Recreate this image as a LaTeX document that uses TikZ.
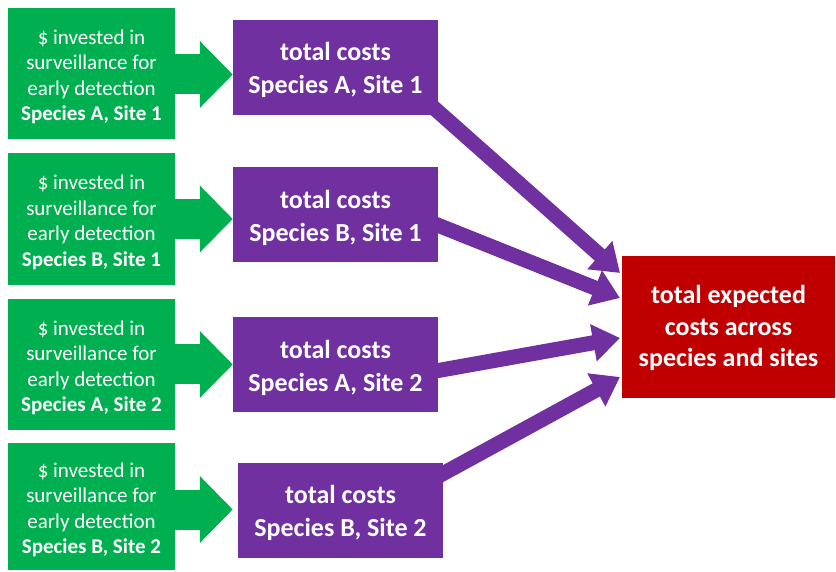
\documentclass[tikz,border=0pt]{standalone}
\usepackage{fontspec}
\setmainfont{Carlito}
\usetikzlibrary{arrows.meta,calc,backgrounds}
\definecolor{gr}{HTML}{00B050}
\definecolor{pu}{HTML}{7030A0}
\definecolor{rd}{HTML}{C00000}
\newcommand{\gtop}{\rule{0pt}{21pt}}
\newcommand{\ptop}{\rule{0pt}{24pt}}
\begin{document}
\begin{tikzpicture}[x=1pt,y=1pt,
  gbox/.style={fill=gr,text=white,minimum width=167pt,minimum height=131pt,inner sep=0pt,align=center,font=\fontsize{21}{25.5}\selectfont},
  pbox/.style={fill=pu,text=white,minimum width=205pt,minimum height=95pt,inner sep=0pt,align=center,font=\bfseries\fontsize{26}{33}\selectfont},
  rbox/.style={fill=rd,text=white,minimum width=213pt,minimum height=142pt,inner sep=0pt,align=center,font=\bfseries\fontsize{26}{31.5}\selectfont},
  garrow/.style={draw=gr,line width=40pt,-{Triangle[length=33pt,width=65pt]}},
  parrow/.style={draw=pu,line width=15pt,-{Triangle[length=27pt,width=36pt]}}]
\useasboundingbox (0,0) rectangle (836,571);
\node[gbox] (g1) at (91.5,497.5) {\gtop\$ invested in\\surveillance for\\early detection\\\textbf{Species A, Site 1}};
\node[gbox,minimum height=132pt] (g2) at (91.5,352) {\gtop\$ invested in\\surveillance for\\early detection\\\textbf{Species B, Site 1}};
\node[gbox] (g3) at (91.5,206.5) {\gtop\$ invested in\\surveillance for\\early detection\\\textbf{Species A, Site 2}};
\node[gbox,minimum height=127pt] (g4) at (91.5,64.5) {\gtop\$ invested in\\surveillance for\\early detection\\\textbf{Species B, Site 2}};
\node[pbox] (p1) at (335.5,503.5) {\ptop total costs\\Species A, Site 1};
\node[pbox] (p2) at (335.5,356) {\ptop total costs\\Species B, Site 1};
\node[pbox] (p3) at (335.5,206) {\ptop total costs\\Species A, Site 2};
\node[pbox] (p4) at (340.5,60.5) {\ptop total costs\\Species B, Site 2};
\node[rbox] (r) at (728.5,244) {\gtop total expected\\costs across\\species and sites};
\begin{scope}[on background layer]
\draw[garrow] ([xshift=-2pt,yshift=-1pt]g1.east) -- ([yshift=-1pt]p1.west |- g1.east);
\draw[garrow] ([xshift=-2pt]g2.east) -- (p2.west |- g2.east);
\draw[garrow] ([xshift=-2pt]g3.east) -- (p3.west |- g3.east);
\draw[garrow] ([xshift=-2pt,yshift=-3pt]g4.east) -- ([xshift=-5pt,yshift=-3pt]p4.west |- g4.east);
\draw[parrow] ($(p1.center)+(89.5,-32.5)$) -- ($(r.center)+(-108.5,54)$);
\draw[parrow] ($(p2.center)+(94.5,-7)$) -- ($(r.center)+(-108.5,29)$);
\draw[parrow] ($(p3.center)+(94.5,-7)$) -- ($(r.center)+(-108.5,-11)$);
\draw[parrow] ($(p4.center)+(94.5,32.5)$) -- ($(r.center)+(-108.5,-50)$);
\end{scope}
\end{tikzpicture}
\end{document}
